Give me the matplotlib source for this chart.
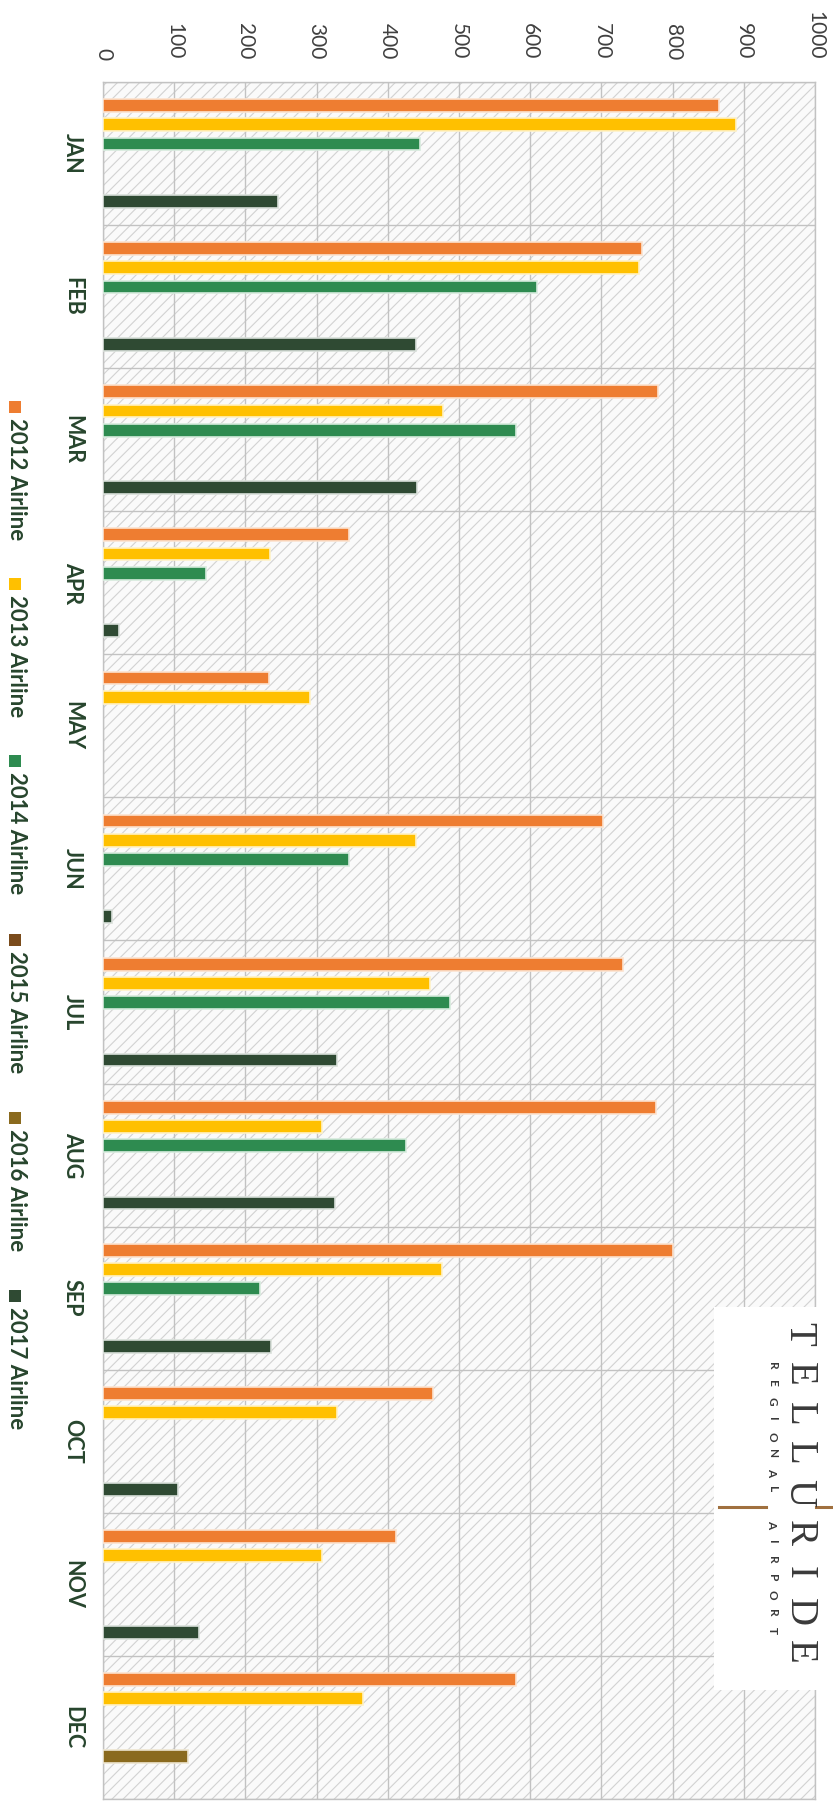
import matplotlib
matplotlib.use('Agg')
import matplotlib.pyplot as plt
import numpy as np
from matplotlib.patches import Rectangle
from matplotlib.lines import Line2D

plt.rcParams['font.family'] = ['Lato', 'DejaVu Sans']
plt.rcParams['hatch.linewidth'] = 0.8

nan = np.nan
months = ['JAN', 'FEB', 'MAR', 'APR', 'MAY', 'JUN', 'JUL', 'AUG', 'SEP', 'OCT', 'NOV', 'DEC']
series_names = ['2012 Airline', '2013 Airline', '2014 Airline',
                '2015 Airline', '2016 Airline', '2017 Airline']
v2012 = [865, 757, 779, 346, 233, 702, 730, 777, 801, 463, 411, 580]
v2013 = [889, 753, 478, 235, 291, 440, 459, 308, 476, 329, 307, 365]
v2014 = [445, 609, 580, 145, nan, 346, 487, 425, 220, nan, nan, nan]
v2015 = [nan, nan, nan, nan, nan, nan, nan, nan, nan, nan, nan, nan]
v2016 = [nan, nan, nan, nan, nan, nan, nan, nan, nan, nan, nan, 119]
v2017 = [246, 440, 441, 22, nan, 12, 328, 326, 236, 105, 135, nan]
value_ticks = [0, 100, 200, 300, 400, 500, 600, 700, 800, 900, 1000]

series = [v2012, v2013, v2014, v2015, v2016, v2017]
colors = ['#EE7D31', '#FFC000', '#2E8B50', '#7A4B1B', '#8A6A1E', '#2F4A33']
edge_colors = ['#FCE3CF', '#FFF2C6', '#D6EBDD', '#EADFD2', '#EDE5D0', '#D9E0DA']
label_color = '#27452D'
tick_color = '#404040'
grid_color = '#C2C2C2'

W, H = 833, 1801
fig = plt.figure(figsize=(W / 100, H / 100), dpi=100)
fig.patch.set_facecolor('white')


def fx(px):
    return px / W


def fy(py):
    return 1 - py / H


ax = fig.add_axes([fx(103), fy(1799), fx(815) - fx(103), fy(82) - fy(1799)])
ax.set_facecolor('#FAFAFA')
bg = Rectangle((0, 0), 1, 1, transform=ax.transAxes, facecolor='#FAFAFA',
               edgecolor='#D2D2D2', hatch='///', linewidth=0, zorder=0)
ax.add_patch(bg)

slot = 0.134
bar_h = 0.09
y = np.arange(len(months))
for k, vals in enumerate(series):
    ax.barh(y + (k - 2.5) * slot, np.array(vals, dtype=float), height=bar_h,
            color=colors[k], edgecolor=edge_colors[k], linewidth=1.2, zorder=3)

ax.set_xlim(0, 1000)
ax.set_ylim(11.5, -0.5)
ax.set_xticks(value_ticks)
ax.set_xticklabels([str(v) for v in value_ticks])
ax.xaxis.tick_top()
ax.tick_params(axis='x', length=0, pad=16, labelsize=15, labelcolor=tick_color)
for t in ax.get_xticklabels():
    t.set_rotation(-90)
    t.set_ha('center')
    t.set_va('bottom')

ax.set_yticks(y)
ax.set_yticklabels(months)
ax.set_yticks(np.arange(-0.5, 12, 1), minor=True)
ax.tick_params(axis='y', which='both', length=0)
ax.tick_params(axis='y', which='major', pad=22, labelsize=15.5, labelcolor=label_color)
for t in ax.get_yticklabels():
    t.set_rotation(-90)
    t.set_ha('center')
    t.set_va('center')
    t.set_fontweight('bold')

ax.set_axisbelow(True)
ax.grid(axis='x', which='major', color=grid_color, linewidth=1, zorder=1)
ax.grid(axis='y', which='minor', color=grid_color, linewidth=1, zorder=1)
ax.grid(axis='y', which='major', visible=False)
for s in ax.spines.values():
    s.set_color(grid_color)
    s.set_linewidth(1)

# legend (rotated, on the left)
leg_y = [407, 584, 761, 940, 1118, 1296]
for k, name in enumerate(series_names):
    fig.add_artist(Rectangle((fx(9), fy(leg_y[k] + 6)), fx(12), 12 / H,
                             transform=fig.transFigure, facecolor=colors[k],
                             edgecolor='none'))
    fig.text(fx(16), fy(leg_y[k] + 11), name, rotation=-90, ha='center', va='top',
             fontsize=16, fontweight='bold', color=label_color)

# logo box
fig.add_artist(Rectangle((fx(714), fy(1690)), fx(833) - fx(714), fy(1307) - fy(1690),
                         transform=fig.transFigure, facecolor='white',
                         edgecolor='none', zorder=5))
logo = 'TELLURIDE'
for j, ch in enumerate(logo):
    yy = 1334 + j * (1652 - 1334) / (len(logo) - 1)
    fig.text(fx(799), fy(yy), ch, rotation=-90, ha='center', va='center',
             fontsize=28, family=['Liberation Serif', 'DejaVu Serif'],
             color='#3A3A3A', zorder=6)
sub = 'REGIONAL AIRPORT'
for j, ch in enumerate(sub):
    if ch == ' ':
        continue
    yy = 1366 + j * (1630 - 1366) / (len(sub) - 1)
    fig.text(fx(772), fy(yy), ch, rotation=-90, ha='center', va='center',
             fontsize=8.5, fontweight='bold', color='#3A3A3A', zorder=6)
for x0, x1 in [(719, 766), (816, 833)]:
    fig.add_artist(Line2D([fx(x0), fx(x1)], [fy(1507), fy(1507)],
                          transform=fig.transFigure, color='#A0703F',
                          linewidth=2.2, zorder=6))

fig.savefig('out.png', dpi=100, facecolor='white')
